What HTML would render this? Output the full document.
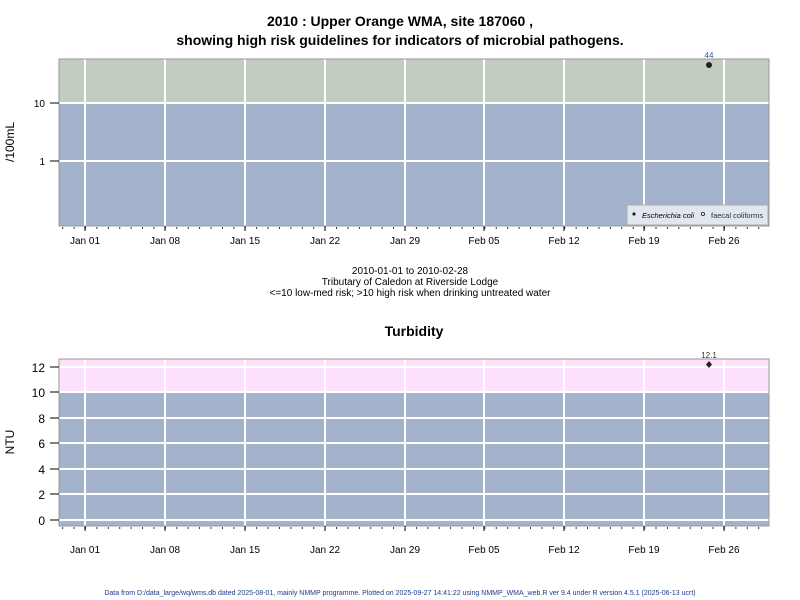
<!DOCTYPE html>
<html><head><meta charset="utf-8"><style>body{margin:0;background:#fff}svg{display:block}</style></head><body>
<svg width="800" height="600" xmlns="http://www.w3.org/2000/svg" font-family="Liberation Sans, Arial, sans-serif">
<defs>
<pattern id="mt" x="73.6" y="0" width="11.41" height="10" patternUnits="userSpaceOnUse"><line x1="0.5" y1="0" x2="0.5" y2="10" stroke="#333" stroke-width="1"/></pattern>
</defs>
<text x="400" y="26" text-anchor="middle" font-size="14" font-weight="bold">2010 : Upper Orange WMA, site 187060 ,</text>
<text x="400" y="45" text-anchor="middle" font-size="14" font-weight="bold">showing high risk guidelines for indicators of microbial pathogens.</text>
<!-- top plot -->
<rect x="59" y="59" width="710" height="44" fill="#c2ccc0"/>
<rect x="59" y="103" width="710" height="123" fill="#a3b3cb"/>
<g stroke="#fff" stroke-width="2">
<line x1="59" y1="103" x2="769" y2="103"/><line x1="59" y1="161" x2="769" y2="161"/>
<line x1="85" y1="59" x2="85" y2="226"/><line x1="165" y1="59" x2="165" y2="226"/><line x1="245" y1="59" x2="245" y2="226"/><line x1="325" y1="59" x2="325" y2="226"/><line x1="405" y1="59" x2="405" y2="226"/><line x1="484" y1="59" x2="484" y2="226"/><line x1="564" y1="59" x2="564" y2="226"/><line x1="644" y1="59" x2="644" y2="226"/><line x1="724" y1="59" x2="724" y2="226"/>
</g>
<rect x="59" y="59" width="710" height="167" fill="none" stroke="#999"/>
<rect x="627" y="205" width="141" height="20" fill="#e2e6ee" stroke="#aaa"/>
<circle cx="634" cy="214" r="1.6" fill="#222"/><text x="642" y="218" font-size="7.5" font-style="italic">Escherichia coli</text>
<circle cx="703" cy="214" r="1.6" fill="none" stroke="#222" stroke-width="0.8"/><text x="711" y="218" font-size="7.5" fill="#234">faecal coliforms</text>
<circle cx="709" cy="65" r="3" fill="#222"/><text x="709" y="58" text-anchor="middle" font-size="8" fill="#2a5e9c">44</text>
<line x1="50" y1="103" x2="59" y2="103" stroke="#000"/><line x1="50" y1="161" x2="59" y2="161" stroke="#000"/>
<text x="45" y="107" text-anchor="end" font-size="10">10</text><text x="45" y="165" text-anchor="end" font-size="10">1</text>
<text x="14" y="142" text-anchor="middle" font-size="12" transform="rotate(-90 14 142)">/100mL</text>
<rect x="60" y="227" width="709" height="2" fill="url(#mt)"/>
<g stroke="#000"><line x1="85" y1="226" x2="85" y2="231"/><line x1="165" y1="226" x2="165" y2="231"/><line x1="245" y1="226" x2="245" y2="231"/><line x1="325" y1="226" x2="325" y2="231"/><line x1="405" y1="226" x2="405" y2="231"/><line x1="484" y1="226" x2="484" y2="231"/><line x1="564" y1="226" x2="564" y2="231"/><line x1="644" y1="226" x2="644" y2="231"/><line x1="724" y1="226" x2="724" y2="231"/></g>
<g font-size="10" text-anchor="middle"><text x="85" y="244">Jan 01</text><text x="165" y="244">Jan 08</text><text x="245" y="244">Jan 15</text><text x="325" y="244">Jan 22</text><text x="405" y="244">Jan 29</text><text x="484" y="244">Feb 05</text><text x="564" y="244">Feb 12</text><text x="644" y="244">Feb 19</text><text x="724" y="244">Feb 26</text></g>
<g font-size="10" text-anchor="middle"><text x="410" y="274">2010-01-01 to 2010-02-28</text><text x="410" y="285">Tributary of Caledon at Riverside Lodge</text><text x="410" y="296">&lt;=10 low-med risk; &gt;10 high risk when drinking untreated water</text></g>
<text x="414" y="336" text-anchor="middle" font-size="14" font-weight="bold">Turbidity</text>
<!-- bottom plot -->
<rect x="59" y="359" width="710" height="33" fill="#fde0fc"/>
<rect x="59" y="392" width="710" height="134" fill="#a3b3cb"/>
<g stroke="#fff" stroke-width="2">
<line x1="59" y1="367" x2="769" y2="367"/><line x1="59" y1="392" x2="769" y2="392"/><line x1="59" y1="418" x2="769" y2="418"/><line x1="59" y1="443" x2="769" y2="443"/><line x1="59" y1="469" x2="769" y2="469"/><line x1="59" y1="494" x2="769" y2="494"/><line x1="59" y1="520" x2="769" y2="520"/>
<line x1="85" y1="359" x2="85" y2="526"/><line x1="165" y1="359" x2="165" y2="526"/><line x1="245" y1="359" x2="245" y2="526"/><line x1="325" y1="359" x2="325" y2="526"/><line x1="405" y1="359" x2="405" y2="526"/><line x1="484" y1="359" x2="484" y2="526"/><line x1="564" y1="359" x2="564" y2="526"/><line x1="644" y1="359" x2="644" y2="526"/><line x1="724" y1="359" x2="724" y2="526"/>
</g>
<rect x="59" y="359" width="710" height="167" fill="none" stroke="#999"/>
<path d="M709 361 L712 364.5 L709 368 L706 364.5Z" fill="#222"/><text x="709" y="358" text-anchor="middle" font-size="8" fill="#333">12.1</text>
<g stroke="#000"><line x1="50" y1="367" x2="59" y2="367"/><line x1="50" y1="392" x2="59" y2="392"/><line x1="50" y1="418" x2="59" y2="418"/><line x1="50" y1="443" x2="59" y2="443"/><line x1="50" y1="469" x2="59" y2="469"/><line x1="50" y1="494" x2="59" y2="494"/><line x1="50" y1="520" x2="59" y2="520"/></g>
<g font-size="12" text-anchor="end"><text x="45" y="372">12</text><text x="45" y="397">10</text><text x="45" y="423">8</text><text x="45" y="448">6</text><text x="45" y="474">4</text><text x="45" y="499">2</text><text x="45" y="525">0</text></g>
<text x="14" y="442" text-anchor="middle" font-size="12" transform="rotate(-90 14 442)">NTU</text>
<rect x="60" y="527" width="709" height="2" fill="url(#mt)"/>
<g stroke="#000"><line x1="85" y1="526" x2="85" y2="531"/><line x1="165" y1="526" x2="165" y2="531"/><line x1="245" y1="526" x2="245" y2="531"/><line x1="325" y1="526" x2="325" y2="531"/><line x1="405" y1="526" x2="405" y2="531"/><line x1="484" y1="526" x2="484" y2="531"/><line x1="564" y1="526" x2="564" y2="531"/><line x1="644" y1="526" x2="644" y2="531"/><line x1="724" y1="526" x2="724" y2="531"/></g>
<g font-size="10" text-anchor="middle"><text x="85" y="553">Jan 01</text><text x="165" y="553">Jan 08</text><text x="245" y="553">Jan 15</text><text x="325" y="553">Jan 22</text><text x="405" y="553">Jan 29</text><text x="484" y="553">Feb 05</text><text x="564" y="553">Feb 12</text><text x="644" y="553">Feb 19</text><text x="724" y="553">Feb 26</text></g>
<text x="400" y="595" text-anchor="middle" font-size="7" fill="#1a3c8c">Data from D:/data_large/wq/wms.db dated 2025-08-01, mainly NMMP programme. Plotted on 2025-09-27 14:41:22 using NMMP_WMA_web.R ver 9.4 under R version 4.5.1 (2025-06-13 ucrt)</text>
</svg>
</body></html>
